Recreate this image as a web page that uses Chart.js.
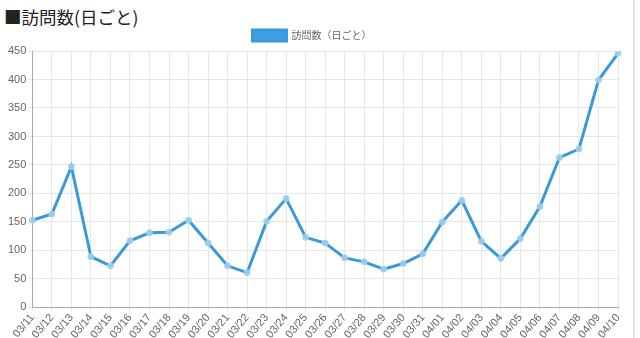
<!DOCTYPE html>
<html>
<head>
<meta charset="utf-8">
<script src="https://cdn.jsdelivr.net/npm/chart.js@4"></script>
<style>
	body { margin: 0; background: #fff; overflow: hidden; }
	#page { position: relative; width: 633px; height: 338px; border-right: 2px solid #e4e4e4; }
	h3 { margin: 0; padding: 5px 0 0 4px; height: 17px; font: 17.5px "Noto Sans CJK JP", sans-serif; color: #222; line-height: 24px; }
	#wrap { position: relative; width: 630px; height: 319px; }
</style>
</head>
<body>
<div id="page">
	<h3>■訪問数(日ごと)</h3>
	<div id="wrap"><canvas id="visitChart"></canvas></div>
</div>
<script>
"use strict";

const dateLabels = [
	"03/11", "03/12", "03/13", "03/14", "03/15", "03/16", "03/17", "03/18", "03/19", "03/20",
	"03/21", "03/22", "03/23", "03/24", "03/25", "03/26", "03/27", "03/28", "03/29", "03/30",
	"03/31", "04/01", "04/02", "04/03", "04/04", "04/05", "04/06", "04/07", "04/08", "04/09", "04/10"
];
const visitCounts = [
	153, 164, 247, 89, 73, 117, 131, 132, 153, 113,
	73, 61, 151, 191, 123, 113, 87, 80, 67, 77,
	94, 150, 188, 116, 86, 121, 177, 263, 278, 399, 446
];
const seriesLabel = "訪問数（日ごと）";

const buildVisitChart = () => {
	let canvas = document.querySelector("canvas#visitChart");
	new Chart(canvas, {
		type: "line",
		data: {
			labels: dateLabels,
			datasets: [{
				label: seriesLabel,
				data: visitCounts,
				borderColor: "#3a9ad9",
				backgroundColor: "#3c9fe3",
				borderWidth: 3,
				tension: 0,
				pointRadius: 3,
				pointBorderWidth: 1,
				pointBackgroundColor: "rgba(160, 205, 236, 0.9)",
				pointBorderColor: "rgba(160, 205, 236, 0.9)"
			}]
		},
		options: {
			responsive: true,
			maintainAspectRatio: false,
			animation: false,
			layout: {
				padding: { left: 6, right: 12, top: 0, bottom: 0 }
			},
			scales: {
				x: {
					grid: { color: "#e6e6e6", drawTicks: true, tickLength: 4 },
					border: { color: "#aaa" },
					ticks: {
						color: "#666",
						font: { family: "'Liberation Sans', sans-serif", size: 11 },
						minRotation: 50,
						maxRotation: 50,
						autoSkip: false,
						padding: 0
					}
				},
				y: {
					min: 0,
					max: 450,
					grid: { color: "#e6e6e6", tickLength: 4 },
					border: { color: "#aaa" },
					ticks: {
						stepSize: 50,
						color: "#666",
						font: { family: "'Liberation Sans', sans-serif", size: 11 },
						padding: 2
					}
				}
			},
			plugins: {
				legend: {
					labels: {
						boxWidth: 34,
						boxHeight: 11,
						color: "#666",
						font: { family: "'Noto Sans CJK JP', sans-serif", size: 10 },
						padding: 8
					}
				},
				tooltip: { enabled: false }
			}
		}
	});
};

buildVisitChart();
</script>
</body>
</html>
